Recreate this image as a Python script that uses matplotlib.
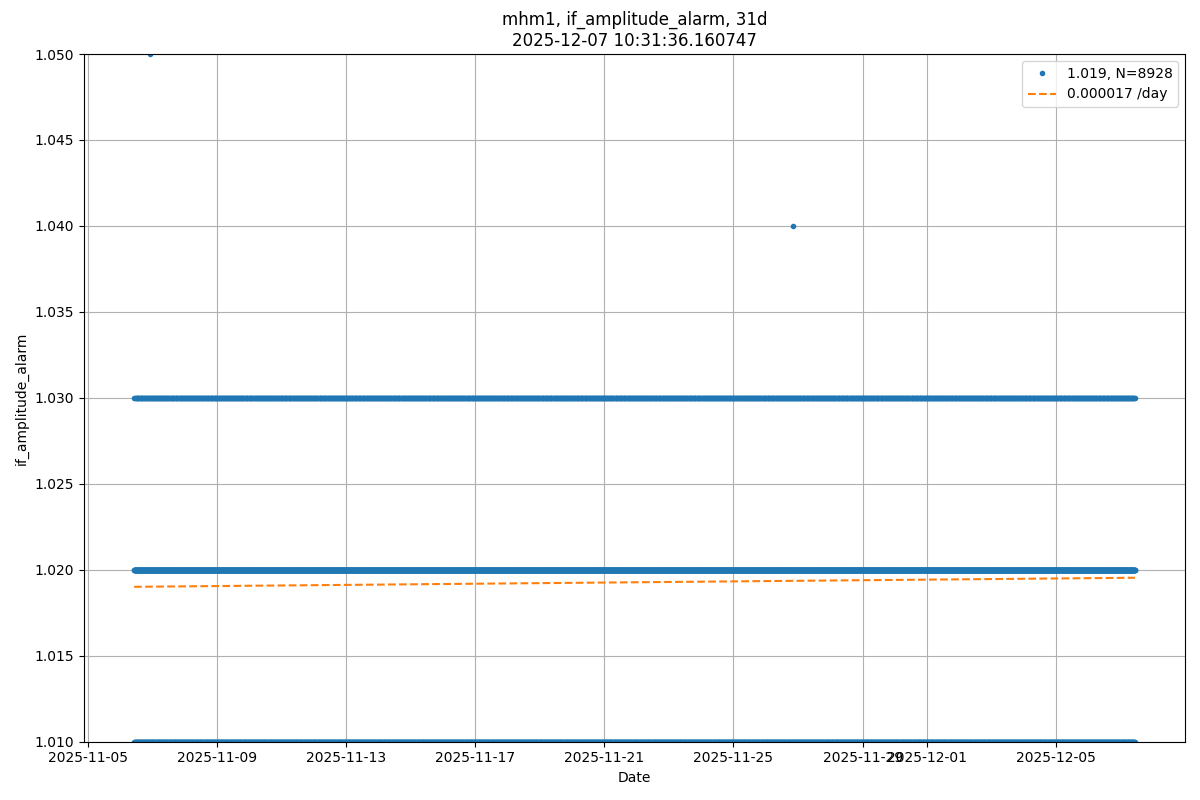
import numpy as np
import pandas as pd
import matplotlib
matplotlib.use("Agg")
import matplotlib.pyplot as plt

# ---- data ----
end_time = pd.Timestamp("2025-12-07 10:31:36.160747")
n_days = 31
sample_minutes = 5
# repeating pattern of alarm levels (5-minute samples)
level_pattern = [1.02, 1.01, 1.02, 1.03, 1.02, 1.01, 1.02, 1.02, 1.01, 1.02, 1.03, 1.02]
outlier_times = ["2025-11-06 22:00", "2025-11-26 20:00"]
outlier_values = [1.05, 1.04]
trend_start_value = 1.01901
trend_slope_per_day = 0.000017

start_time = end_time - pd.Timedelta(days=n_days)
n = n_days * 24 * 60 // sample_minutes
times = pd.date_range(start_time, periods=n, freq=f"{sample_minutes}min")
values = np.resize(np.array(level_pattern), n)
for t, v in zip(outlier_times, outlier_values):
    idx = int(np.argmin(np.abs((times - pd.Timestamp(t)).total_seconds())))
    values[idx] = v

days = (times - times[0]).total_seconds() / 86400.0
trend = trend_start_value + trend_slope_per_day * days

fig, ax = plt.subplots(figsize=(12, 8), dpi=100)
ax.plot(times, values, ".", color="C0", label=f"{values.mean():.3f}, N={n}")
ax.plot([times[0], times[-1]], [trend[0], trend[-1]], "--", color="C1",
        label=f"{trend_slope_per_day:.6f} /day")
ax.set_ylim(1.01, 1.05)
ax.set_title(f"mhm1, if_amplitude_alarm, {n_days}d\n{end_time}")
ax.set_xlabel("Date")
ax.set_ylabel("if_amplitude_alarm")
ax.grid(True)
ax.legend(loc="upper right")
fig.tight_layout()
fig.subplots_adjust(top=1 - 54 / 800)
fig.savefig("out.png")
